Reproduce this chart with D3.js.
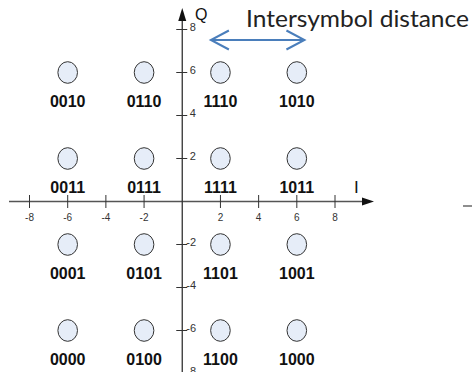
<!DOCTYPE html>
<html>
<head>
<meta charset="utf-8">
<script src="https://cdn.jsdelivr.net/npm/d3@7.9.0/dist/d3.min.js"></script>
<style>
  html, body { margin: 0; padding: 0; background: #fff; }
  svg { display: block; }
</style>
</head>
<body>
<svg id="chart" width="472" height="372"></svg>
<script>
// constellation data (16-QAM, Gray coded)
const iLevels = [-6, -2, 2, 6];
const qLevels = [6, 2, -2, -6];
const codes = [
  ['0010', '0110', '1110', '1010'],
  ['0011', '0111', '1111', '1011'],
  ['0001', '0101', '1101', '1001'],
  ['0000', '0100', '1100', '1000']
];
const tickVals = [-8, -6, -4, -2, 2, 4, 6, 8];
const distance = [1.5, 6.4]; // intersymbol arrow span on I, drawn at Q = 7.5

const svg = d3.select('#chart');
const x = d3.scaleLinear().domain([-8, 8]).range([29.5, 335]);
const y = d3.scaleLinear().domain([-8, 8]).range([373.5, 29.5]);
const x0 = x(0), y0 = y(0);
const sans = 'Arial';

// axes lines
svg.append('line').attr('x1', 9).attr('x2', 364).attr('y1', y0).attr('y2', y0)
  .attr('stroke', '#555').attr('stroke-width', 1.3);
svg.append('line').attr('x1', x0).attr('x2', x0).attr('y1', 20).attr('y2', 372)
  .attr('stroke', '#333').attr('stroke-width', 1.3);

// arrowheads
svg.append('path').attr('d', `M${x0},8 L${x0 - 4},21 L${x0 + 4},21 Z`).attr('fill', '#111');
svg.append('path').attr('d', `M374,${y0} L362,${y0 - 4} L362,${y0 + 4} Z`).attr('fill', '#111');

// x ticks
svg.selectAll('.xt').data(tickVals).join('line')
  .attr('x1', d => x(d)).attr('x2', d => x(d))
  .attr('y1', y0 - 6.5).attr('y2', y0 + 6.5)
  .attr('stroke', '#333').attr('stroke-width', 1);
svg.selectAll('.xl').data(tickVals).join('text')
  .attr('x', d => x(d)).attr('y', y0 + 19)
  .attr('text-anchor', 'middle')
  .attr('font-family', sans).attr('font-size', 10).attr('fill', '#333')
  .text(d => d);

// y ticks
svg.selectAll('.yt').data(tickVals).join('line')
  .attr('x1', x0 - 6).attr('x2', x0 + 5)
  .attr('y1', d => y(d)).attr('y2', d => y(d))
  .attr('stroke', '#333').attr('stroke-width', 1);
svg.selectAll('.yl').data(tickVals).join('text')
  .attr('x', d => x0 + (d < 0 ? 4 : 7.5)).attr('y', d => y(d) + 1)
  .attr('font-family', sans).attr('font-size', 11).attr('fill', '#333')
  .text(d => d);

// axis titles
svg.append('text').attr('x', 195).attr('y', 20)
  .attr('font-family', sans).attr('font-size', 16).attr('fill', '#111').text('Q');
svg.append('text').attr('x', 354).attr('y', 193)
  .attr('font-family', sans).attr('font-size', 17).attr('fill', '#111').text('I');

// constellation points
const pts = [];
qLevels.forEach((q, r) => iLevels.forEach((i, c) => pts.push({ i, q, code: codes[r][c] })));

svg.selectAll('.pt').data(pts).join('ellipse')
  .attr('cx', d => x(d.i)).attr('cy', d => y(d.q))
  .attr('rx', 9.8).attr('ry', 10.8)
  .attr('fill', '#e6edf8').attr('stroke', '#333').attr('stroke-width', 1);

svg.selectAll('.code').data(pts).join('text')
  .attr('x', d => x(d.i)).attr('y', d => y(d.q) + 34)
  .attr('text-anchor', 'middle')
  .attr('font-family', sans).attr('font-size', 16).attr('font-weight', 'bold').attr('fill', '#111')
  .text(d => d.code);

// intersymbol distance arrow
const ay = 40;
const ax1 = x(distance[0]), ax2 = x(distance[1]);
const blue = '#4a7ebb';
svg.append('line').attr('x1', ax1).attr('x2', ax2).attr('y1', ay).attr('y2', ay)
  .attr('stroke', blue).attr('stroke-width', 2);
svg.append('path').attr('d', `M${ax1 + 18},${ay - 9.5} L${ax1},${ay} L${ax1 + 18},${ay + 9.5}`)
  .attr('fill', 'none').attr('stroke', blue).attr('stroke-width', 2);
svg.append('path').attr('d', `M${ax2 - 18},${ay - 9.5} L${ax2},${ay} L${ax2 - 18},${ay + 9.5}`)
  .attr('fill', 'none').attr('stroke', blue).attr('stroke-width', 2);

svg.append('text').attr('x', 246).attr('y', 27)
  .attr('font-family', 'Lato').attr('font-size', 24).attr('fill', '#222')
  .attr('textLength', 223).attr('lengthAdjust', 'spacingAndGlyphs')
  .text('Intersymbol distance');

// stray dash at right edge
svg.append('line').attr('x1', 463).attr('x2', 472).attr('y1', 206).attr('y2', 206)
  .attr('stroke', '#444').attr('stroke-width', 1.2);
</script>
</body>
</html>
